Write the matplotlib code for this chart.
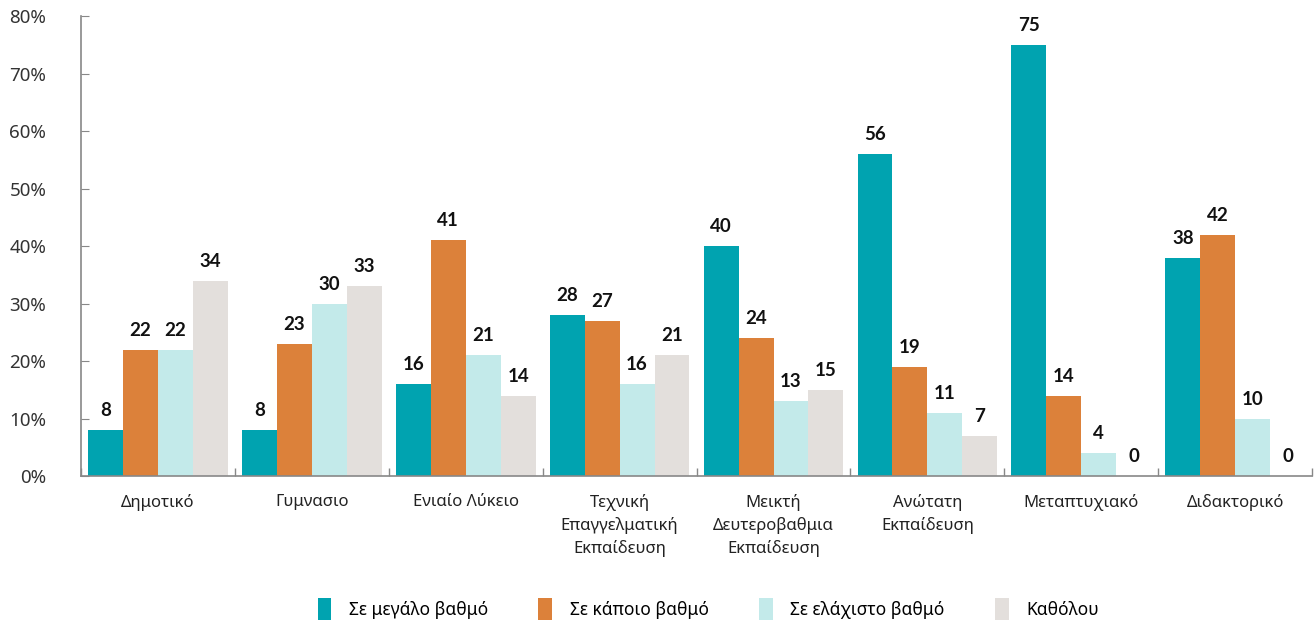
import numpy as np
import matplotlib
matplotlib.use("Agg")
import matplotlib.pyplot as plt
from matplotlib.patches import Patch

plt.rcParams['font.family'] = ['Noto Sans', 'DejaVu Sans']

categories = [
    "Δημοτικό",
    "Γυμνασιο",
    "Ενιαίο Λύκειο",
    "Τεχνική\nΕπαγγελματική\nΕκπαίδευση",
    "Μεικτή\nΔευτεροβαθμια\nΕκπαίδευση",
    "Ανώτατη\nΕκπαίδευση",
    "Μεταπτυχιακό",
    "Διδακτορικό",
]
series_names = ["Σε μεγάλο βαθμό", "Σε κάποιο βαθμό", "Σε ελάχιστο βαθμό", "Καθόλου"]
large = [8, 8, 16, 28, 40, 56, 75, 38]
some = [22, 23, 41, 27, 24, 19, 14, 42]
minimal = [22, 30, 21, 16, 13, 11, 4, 10]
none_at_all = [34, 33, 14, 21, 15, 7, 0, 0]
colors = ["#00A3B0", "#DC813A", "#C3EAEA", "#E3DFDC"]

series = [large, some, minimal, none_at_all]

fig = plt.figure(figsize=(13.14, 6.24), dpi=100)
ax = fig.add_axes([0.0616, 0.237, 0.937, 0.737])

x = np.arange(len(categories))
width = 0.227
offsets = (np.arange(4) - 1.5) * width

for vals, off, col in zip(series, offsets, colors):
    bars = ax.bar(x + off, vals, width, color=col)
    for b, v in zip(bars, vals):
        ax.annotate(f"{v}", (b.get_x() + b.get_width() / 2, v),
                    xytext=(0, 8), textcoords="offset points",
                    ha="center", va="bottom", fontsize=13.5,
                    family=["Lato", "DejaVu Sans"], fontweight="bold",
                    color="#111111")

ax.set_xlim(-0.5, len(categories) - 0.5)
ax.set_ylim(0, 80)
ax.set_yticks(range(0, 81, 10))
ax.set_yticklabels([f"{t}%" for t in range(0, 81, 10)])

# category separators on the x axis instead of centred ticks
ax.set_xticks(np.arange(-0.5, len(categories), 1.0))
ax.set_xticklabels([])
ax.set_xticks(x, minor=True)
ax.set_xticklabels(categories, minor=True, fontsize=12, color="#222222",
                   linespacing=1.45)
ax.tick_params(axis="x", which="minor", length=0, pad=13)
ax.tick_params(axis="x", which="major", direction="in", length=6,
               color="#888888", width=1)
ax.tick_params(axis="y", direction="in", length=6, color="#888888",
               labelsize=13.5, labelcolor="#333333", pad=25)

for side in ["top", "right"]:
    ax.spines[side].set_visible(False)
for side in ["left", "bottom"]:
    ax.spines[side].set_color("#888888")
    ax.spines[side].set_linewidth(1.2)

handles = [Patch(facecolor=c, edgecolor="none") for c in colors]
fig.legend(handles, series_names, loc="lower center",
           bbox_to_anchor=(0.539, -0.018), ncol=4, frameon=False,
           fontsize=12.5, handlelength=0.8, handleheight=1.5,
           handletextpad=1.0, columnspacing=2.9)

fig.savefig("out.png", dpi=100)
